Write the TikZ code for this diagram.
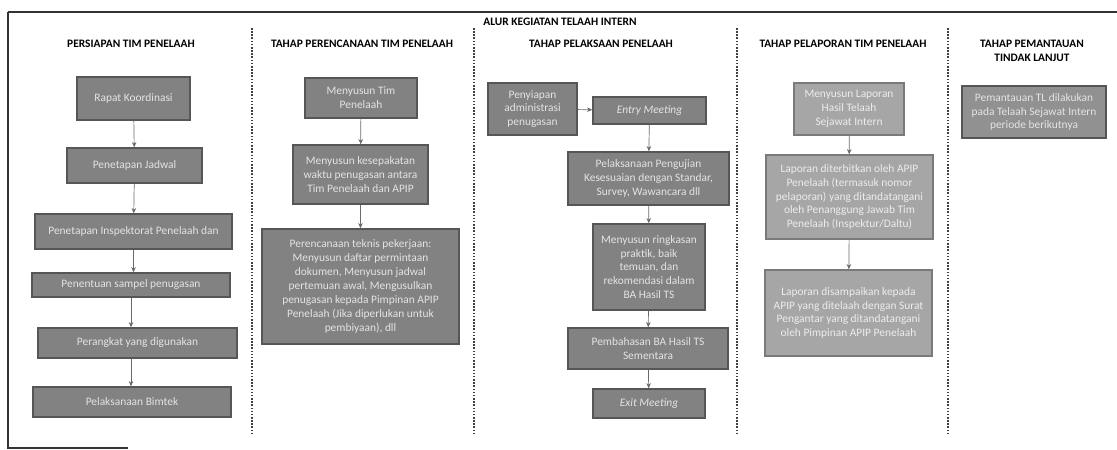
\documentclass[tikz,border=0pt]{standalone}
\usepackage{fontspec}
\setmainfont{Carlito}
\usetikzlibrary{arrows.meta}
\definecolor{boxfill}{HTML}{828282}
\definecolor{boxline}{HTML}{565656}
\definecolor{boxtext}{HTML}{E4E4E4}
\definecolor{lightfill}{HTML}{A6A6A6}
\definecolor{lightline}{HTML}{7A7A7A}
\definecolor{arrowgray}{HTML}{6A6A6A}
\tikzset{
  stepbox/.style={draw=boxline, line width=0.8pt, fill=boxfill, text=boxtext,
    align=center, inner sep=0pt, font=\fontsize{6.5}{7.9}\selectfont},
  lightbox/.style={stepbox, draw=lightline, fill=lightfill, text=white!93!black},
  header/.style={font=\fontsize{6.5}{7.9}\selectfont\bfseries, align=center},
  flow/.style={draw=arrowgray, line width=0.4pt, -{Stealth[length=3pt,width=2.6pt]}},
  divider/.style={draw=black!75, line width=0.9pt, dash pattern=on 0.9pt off 0.9pt}
}
\begin{document}
\begin{tikzpicture}[x=0.02cm, y=-0.02cm]
\useasboundingbox (0,0) rectangle (1117,450);
% \clip (0,0) rectangle (1117,450);

% Drawing frame
\draw [line width=1.1pt, black!80] (8,12) -- (1117,12);
\draw [line width=0.8pt, black!80] (8,12) -- (8,448) -- (128,448);

% Drawing dividers between stages
\draw [divider] (252,28) -- (252,433);
\draw [divider] (474,28) -- (474,433);
\draw [divider] (737,28) -- (737,433);
\draw [divider] (948,28) -- (948,433);

% Marking title and stage headers
\node (title) at (560,22) [header] {ALUR KEGIATAN TELAAH INTERN};
\node (hdrsiap) at (131,44) [header] {PERSIAPAN TIM PENELAAH};
\node (hdrrenc) at (362,44) [header] {TAHAP PERENCANAAN TIM PENELAAH};
\node (hdrlaks) at (601,44) [header] {TAHAP PELAKSAAN PENELAAH};
\node (hdrlapor) at (843,44) [header] {TAHAP PELAPORAN TIM PENELAAH};
\node (hdrpantau) at (1032,51) [header] {TAHAP PEMANTAUAN\\TINDAK LANJUT};

% Drawing boxes of stage 1
\node (rapat) at (133.5,98.5) [stepbox, minimum width=2.26cm, minimum height=0.86cm] {Rapat Koordinasi};
\node (jadwal) at (134.5,165.5) [stepbox, minimum width=2.70cm, minimum height=0.70cm] {Penetapan Jadwal};
\node (inspek) at (133.5,231.5) [stepbox, minimum width=3.94cm, minimum height=0.70cm] {Penetapan Inspektorat Penelaah dan};
\node (sampel) at (131,285) [stepbox, minimum width=3.96cm, minimum height=0.48cm] {Penentuan sampel penugasan};
\node (perangkat) at (137.5,343) [stepbox, minimum width=3.98cm, minimum height=0.60cm] {Perangkat yang digunakan};
\node (bimtek) at (132,402) [stepbox, minimum width=3.96cm, minimum height=0.60cm] {Pelaksanaan Bimtek};

% Drawing boxes of stage 2
\node (timpen) at (361,98) [stepbox, minimum width=2.24cm, minimum height=0.80cm] {Menyusun Tim\\Penelaah};
\node (sepakat) at (360.5,174.5) [stepbox, minimum width=2.70cm, minimum height=1.18cm] {Menyusun kesepakatan\\waktu penugasan antara\\Tim Penelaah dan APIP};
\node (teknis) at (360.5,286.5) [stepbox, minimum width=3.94cm, minimum height=2.30cm] {Perencanaan teknis pekerjaan:\\Menyusun daftar permintaan\\dokumen, Menyusun jadwal\\pertemuan awal, Mengusulkan\\penugasan kepada Pimpinan APIP\\Penelaah (Jika diperlukan untuk\\pembiyaan), dll};

% Drawing boxes of stage 3
\node (admin) at (532.5,109) [stepbox, minimum width=1.78cm, minimum height=1.04cm] {Penyiapan\\administrasi\\penugasan};
\node (entry) at (649.5,110.5) [stepbox, minimum width=2.26cm, minimum height=0.54cm] {\itshape Entry Meeting};
\node (uji) at (648.5,178.5) [stepbox, minimum width=3.22cm, minimum height=1.06cm] {Pelaksanaan Pengujian\\Kesesuaian dengan Standar,\\Survey, Wawancara dll};
\node (ringkas) at (649,267) [stepbox, minimum width=2.24cm, minimum height=1.72cm] {Menyusun ringkasan\\praktik, baik\\temuan, dan\\rekomendasi dalam\\BA Hasil TS};
\node (bahas) at (648,348.5) [stepbox, minimum width=3.20cm, minimum height=0.82cm] {Pembahasan BA Hasil TS\\Sementara};
\node (exit) at (649,403.5) [stepbox, minimum width=2.24cm, minimum height=0.58cm] {\itshape Exit Meeting};

% Drawing boxes of stage 4
\node (susunlap) at (849,109) [lightbox, minimum width=2.20cm, minimum height=1.04cm] {Menyusun Laporan\\Hasil Telaah\\Sejawat Intern};
\node (terbit) at (849.5,197) [lightbox, minimum width=3.34cm, minimum height=1.68cm] {Laporan diterbitkan oleh APIP\\Penelaah (termasuk nomor\\pelaporan) yang ditandatangani\\oleh Penanggung Jawab Tim\\Penelaah (Inspektur/Daltu)};
\node (sampai) at (848.5,313) [lightbox, minimum width=3.34cm, minimum height=1.72cm] {Laporan disampaikan kepada\\APIP yang ditelaah dengan Surat\\Pengantar yang ditandatangani\\oleh Pimpinan APIP Penelaah};

% Drawing box of stage 5
\node (pantau) at (1034,112) [stepbox, fill=boxfill!88!white, minimum width=2.88cm, minimum height=1.04cm] {Pemantauan TL dilakukan\\pada Telaah Sejawat Intern\\periode berikutnya};

% Drawing arrows
\draw [flow] (rapat) -- (jadwal);
\draw [flow] (jadwal) -- (inspek);
\draw [flow] (inspek.south) ++(0,0) -- (inspek.south |- sampel.north);
\draw [flow] (sampel.south) -- (sampel.south |- perangkat.north);
\draw [flow] (perangkat.south -| sampel.south) -- (sampel.south |- bimtek.north);
\draw [flow] (timpen) -- (sepakat);
\draw [flow] (sepakat) -- (teknis);
\draw [flow] (admin) -- (entry);
\draw [flow] (entry) -- (uji);
\draw [flow] (uji) -- (ringkas);
\draw [flow] (ringkas) -- (bahas);
\draw [flow] (bahas) -- (exit);
\draw [flow] (susunlap) -- (terbit);
\draw [flow] (terbit) -- (sampai);
\end{tikzpicture}
\end{document}
